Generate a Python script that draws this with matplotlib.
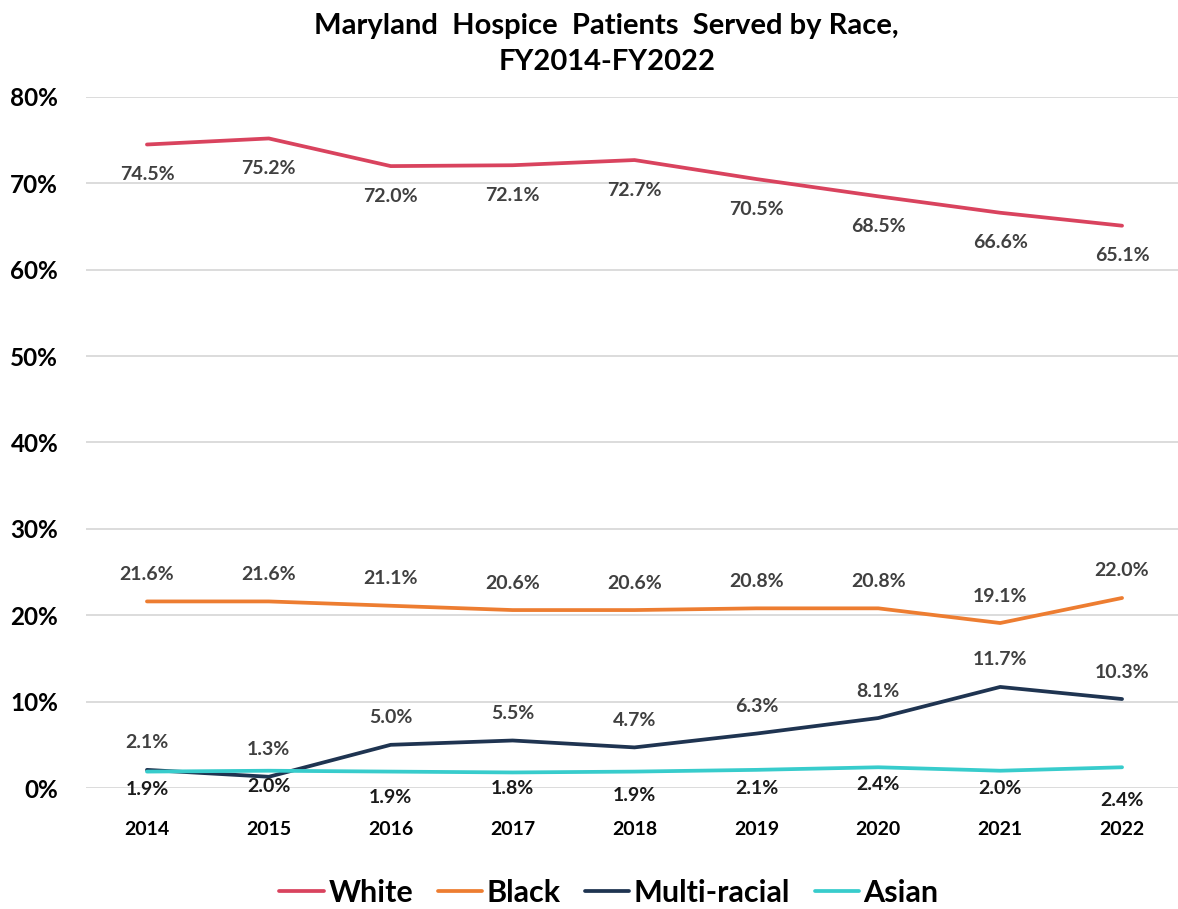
import matplotlib
matplotlib.use("Agg")
import matplotlib.pyplot as plt

plt.rcParams['font.family'] = ['Lato', 'DejaVu Sans']

years = ["2014", "2015", "2016", "2017", "2018", "2019", "2020", "2021", "2022"]
white = [74.5, 75.2, 72.0, 72.1, 72.7, 70.5, 68.5, 66.6, 65.1]
black = [21.6, 21.6, 21.1, 20.6, 20.6, 20.8, 20.8, 19.1, 22.0]
multi = [2.1, 1.3, 5.0, 5.5, 4.7, 6.3, 8.1, 11.7, 10.3]
asian = [1.9, 2.0, 1.9, 1.8, 1.9, 2.1, 2.4, 2.0, 2.4]

# label offsets in pixels for the asian series (labels were nudged by hand)
asian_off = [-18, -16, -26, -16, -24, -19, -17, -18, -33]

fig = plt.figure(figsize=(11.78, 9.09), dpi=100)
ax = fig.add_axes([86 / 1178, 1 - 788 / 909, (1183 - 86) / 1178, (788 - 97) / 909])

x = list(range(len(years)))
series = [
    ("White", white, "#D9435E"),
    ("Black", black, "#ED7D31"),
    ("Multi-racial", multi, "#1F3451"),
    ("Asian", asian, "#38CCCC"),
]
for name, vals, col in series:
    ax.plot(x, vals, color=col, lw=2.7, label=name, solid_capstyle='round', zorder=3)

def labels(vals, offs, color):
    for i, v in enumerate(vals):
        o = offs[i] if isinstance(offs, list) else offs
        ax.annotate(f"{v:.1f}%", (i, v), xytext=(0, o), textcoords='offset pixels',
                    ha='center', va='center', fontsize=14, fontweight='bold', color=color)

labels(white, -30, "#404040")
labels(black, 27, "#404040")
labels(multi, 27, "#404040")
labels(asian, asian_off, "#1a1a1a")

ax.set_xlim(-0.5, 8.5)
ax.set_ylim(0, 80)
ax.set_yticks(range(0, 81, 10))
ax.set_yticklabels([f"{t}%" for t in range(0, 81, 10)], fontsize=17.5, fontweight='bold')
ax.set_xticks(x)
ax.set_xticklabels(years, fontsize=14, fontweight='bold')
ax.tick_params(axis='y', length=0, pad=20)
ax.tick_params(axis='x', length=0, pad=24)
ax.grid(axis='y', color='#D9D9D9', lw=1.3, zorder=0)
for s in ax.spines.values():
    s.set_visible(False)

fig.text(0.515, 0.986, "Maryland  Hospice  Patients  Served by Race,\nFY2014-FY2022",
         ha='center', va='top', fontsize=21, fontweight='bold', linespacing=1.5)

fig.legend(loc='center', bbox_to_anchor=(0.517, 0.018), ncol=4, frameon=False,
           handlelength=1.45, handletextpad=0.15, columnspacing=0.8,
           prop={'weight': 'bold', 'size': 22})

fig.savefig("out.png", dpi=100)
